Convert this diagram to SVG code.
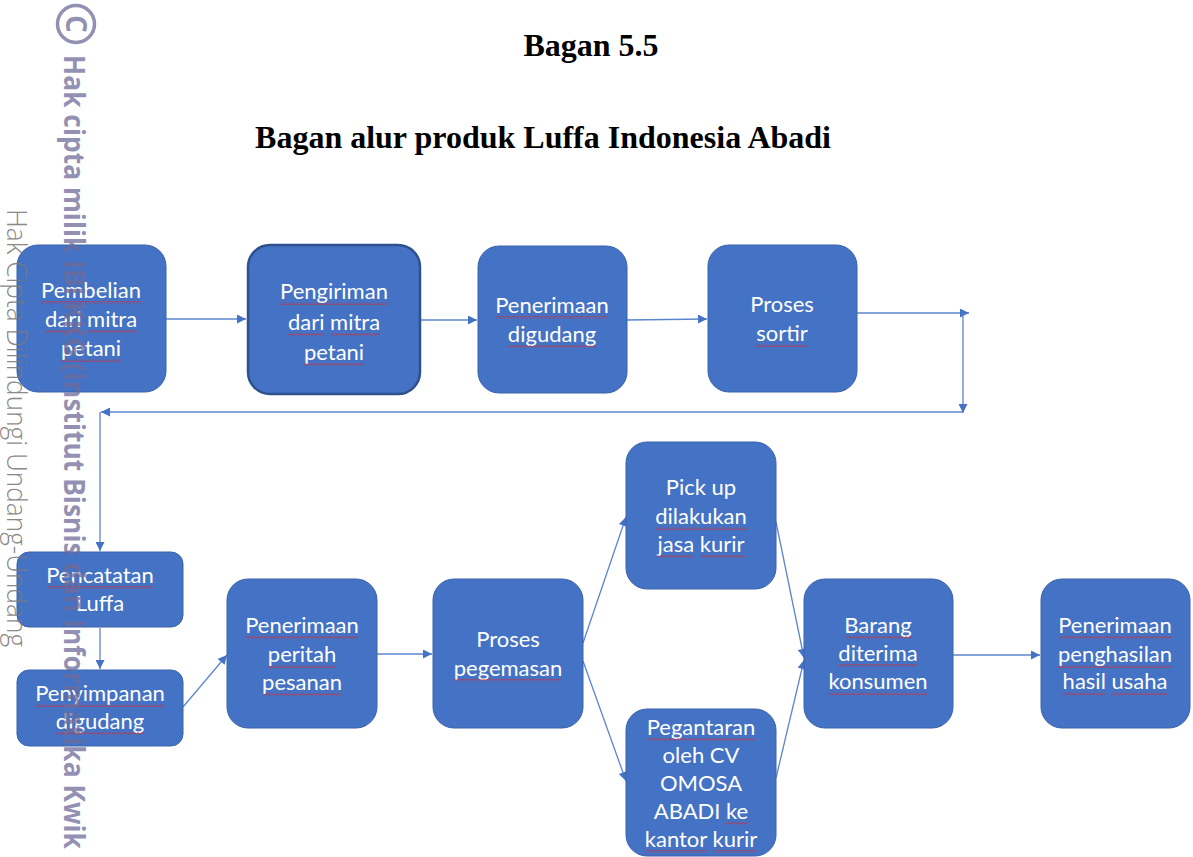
<svg xmlns="http://www.w3.org/2000/svg" width="1193" height="857" viewBox="0 0 1193 857">
<style>
.title{font-family:"Liberation Serif","Times New Roman",serif;font-weight:bold;font-size:32px;fill:#000;text-anchor:middle}
.box{fill:#4472C4;stroke:#3A62AA;stroke-width:1}
.box2{fill:#4472C4;stroke:#2F528F;stroke-width:2.5}
.lbl{font-family:Lato,"Noto Sans",sans-serif;font-size:22px;fill:#fff;text-anchor:middle}
.sq{fill:url(#wavy)}
.con{fill:none;stroke:#5B86CF;stroke-width:1.3}
.wm{font-family:"Open Sans","Noto Sans",sans-serif;font-weight:bold;font-size:28px;fill:#6E6C9A;fill-opacity:0.75}
.wm2{font-family:"Open Sans","Noto Sans",sans-serif;font-weight:300;font-size:27px;fill:#7A7A7A;fill-opacity:0.9}
</style>
<defs>
<marker id="ah" viewBox="0 0 10 10" refX="10" refY="5" markerWidth="10" markerHeight="9" markerUnits="userSpaceOnUse" orient="auto">
<path d="M0,0 L10,5 L0,10 z" fill="#4472C4"/>
</marker>
<pattern id="wavy" x="0" y="0" width="4" height="3" patternUnits="userSpaceOnUse">
<path d="M0,2.5 L2,0.5 L4,2.5" fill="none" stroke="#E02828" stroke-width="0.9"/>
</pattern>
</defs>
<rect width="1193" height="857" fill="#fff"/>
<text class="title" x="591" y="56">Bagan 5.5</text>
<text class="title" x="543" y="148">Bagan alur produk Luffa Indonesia Abadi</text>

<g id="connectors">
<path class="con" d="M166,319 L246,319" marker-end="url(#ah)"/>
<path class="con" d="M420,320 L477,320" marker-end="url(#ah)"/>
<path class="con" d="M627,320 L707,319" marker-end="url(#ah)"/>
<path class="con" d="M857,313 L969,313" marker-end="url(#ah)"/>
<path class="con" d="M963,313 L963,413" marker-end="url(#ah)"/>
<path class="con" d="M963,412 L101,412" marker-end="url(#ah)"/>
<path class="con" d="M100,412 L100,551" marker-end="url(#ah)"/>
<path class="con" d="M100,628 L100,669" marker-end="url(#ah)"/>
<path class="con" d="M183,707 L227,655" marker-end="url(#ah)"/>
<path class="con" d="M377,654 L432,654" marker-end="url(#ah)"/>
<path class="con" d="M583,643 L626,517" marker-end="url(#ah)"/>
<path class="con" d="M583,661 L626,781" marker-end="url(#ah)"/>
<path class="con" d="M776,522 L804,658" marker-end="url(#ah)"/>
<path class="con" d="M776,778 L804,660" marker-end="url(#ah)"/>
<path class="con" d="M953,655 L1040,655" marker-end="url(#ah)"/>
</g>

<g id="n-pembelian">
<rect class="box" x="17" y="245" width="149" height="147" rx="21"/>
<text class="lbl"><tspan x="91" y="298">Pembelian</tspan><tspan x="91" y="327">dari mitra</tspan><tspan x="91" y="356">petani</tspan></text>
<rect class="sq" x="41" y="301" width="100" height="3"/>
<rect class="sq" x="45" y="330" width="36" height="3"/>
<rect class="sq" x="88" y="330" width="49" height="3"/>
<rect class="sq" x="61" y="359" width="60" height="3"/>
</g>
<g id="n-pengiriman">
<rect class="box2" x="248" y="245" width="172" height="149" rx="22"/>
<text class="lbl"><tspan x="334" y="299">Pengiriman</tspan><tspan x="334" y="330">dari mitra</tspan><tspan x="334" y="360">petani</tspan></text>
<rect class="sq" x="280" y="302" width="108" height="3"/>
<rect class="sq" x="288" y="333" width="36" height="3"/>
<rect class="sq" x="331" y="333" width="49" height="3"/>
<rect class="sq" x="304" y="363" width="60" height="3"/>
</g>
<g id="n-penerimaan-gudang">
<rect class="box" x="478" y="246" width="149" height="147" rx="21"/>
<text class="lbl"><tspan x="552" y="313">Penerimaan</tspan><tspan x="552" y="342">digudang</tspan></text>
<rect class="sq" x="496" y="316" width="112" height="3"/>
<rect class="sq" x="508" y="345" width="88" height="3"/>
</g>
<g id="n-sortir">
<rect class="box" x="708" y="245" width="149" height="147" rx="21"/>
<text class="lbl"><tspan x="782" y="312">Proses</tspan><tspan x="782" y="341">sortir</tspan></text>
<rect class="sq" x="756" y="344" width="52" height="3"/>
</g>
<g id="n-pencatatan">
<rect class="box" x="17" y="552" width="166" height="75" rx="12"/>
<text class="lbl"><tspan x="100" y="583">Pencatatan</tspan><tspan x="100" y="611">Luffa</tspan></text>
<rect class="sq" x="47" y="586" width="106" height="3"/>
</g>
<g id="n-penyimpanan">
<rect class="box" x="17" y="670" width="166" height="76" rx="12"/>
<text class="lbl"><tspan x="100" y="701">Penyimpanan</tspan><tspan x="100" y="729">digudang</tspan></text>
<rect class="sq" x="36" y="704" width="129" height="3"/>
<rect class="sq" x="56" y="732" width="88" height="3"/>
</g>
<g id="n-pesanan">
<rect class="box" x="227" y="579" width="150" height="149" rx="21"/>
<text class="lbl"><tspan x="302" y="633">Penerimaan</tspan><tspan x="302" y="662">peritah</tspan><tspan x="302" y="690">pesanan</tspan></text>
<rect class="sq" x="246" y="636" width="112" height="3"/>
<rect class="sq" x="268" y="665" width="68" height="3"/>
<rect class="sq" x="263" y="693" width="79" height="3"/>
</g>
<g id="n-pegemasan">
<rect class="box" x="433" y="579" width="150" height="149" rx="21"/>
<text class="lbl"><tspan x="508" y="647">Proses</tspan><tspan x="508" y="676">pegemasan</tspan></text>
<rect class="sq" x="454" y="679" width="108" height="3"/>
</g>
<g id="n-pickup">
<rect class="box" x="626" y="442" width="150" height="147" rx="21"/>
<text class="lbl"><tspan x="701" y="495">Pick up</tspan><tspan x="701" y="524">dilakukan</tspan><tspan x="701" y="552">jasa kurir</tspan></text>
<rect class="sq" x="655" y="527" width="92" height="3"/>
<rect class="sq" x="657" y="555" width="37" height="3"/>
<rect class="sq" x="701" y="555" width="44" height="3"/>
</g>
<g id="n-pegantaran">
<rect class="box" x="626" y="709" width="150" height="147" rx="21"/>
<text class="lbl"><tspan x="701" y="735">Pegantaran</tspan><tspan x="701" y="763">oleh CV</tspan><tspan x="701" y="791">OMOSA</tspan><tspan x="701" y="819">ABADI ke</tspan><tspan x="701" y="847">kantor kurir</tspan></text>
<rect class="sq" x="647" y="738" width="108" height="3"/>
<rect class="sq" x="726" y="822" width="22" height="3"/>
<rect class="sq" x="645" y="850" width="63" height="3"/>
<rect class="sq" x="713" y="850" width="44" height="3"/>
</g>
<g id="n-barang">
<rect class="box" x="804" y="579" width="149" height="149" rx="21"/>
<text class="lbl"><tspan x="878" y="633">Barang</tspan><tspan x="878" y="661">diterima</tspan><tspan x="878" y="689">konsumen</tspan></text>
<rect class="sq" x="845" y="636" width="67" height="3"/>
<rect class="sq" x="838" y="664" width="80" height="3"/>
<rect class="sq" x="829" y="692" width="98" height="3"/>
</g>
<g id="n-penghasilan">
<rect class="box" x="1041" y="579" width="149" height="149" rx="21"/>
<text class="lbl"><tspan x="1115" y="633">Penerimaan</tspan><tspan x="1115" y="662">penghasilan</tspan><tspan x="1115" y="689">hasil usaha</tspan></text>
<rect class="sq" x="1059" y="636" width="112" height="3"/>
<rect class="sq" x="1058" y="665" width="114" height="3"/>
<rect class="sq" x="1063" y="692" width="42" height="3"/>
<rect class="sq" x="1112" y="692" width="55" height="3"/>
</g>

<g id="watermark">
<circle cx="76" cy="24" r="18.5" fill="none" stroke="#6E6C9A" stroke-opacity="0.75" stroke-width="3.5"/>
<text class="wm" transform="translate(66,24) rotate(90)" text-anchor="middle" font-size="26">C</text>
<text class="wm" transform="translate(64,55) rotate(90)" textLength="794" lengthAdjust="spacingAndGlyphs">Hak cipta milik IBI KKG (Institut Bisnis dan Informatika Kwik</text>
<text class="wm2" transform="translate(7,209) rotate(90)" textLength="438" lengthAdjust="spacingAndGlyphs">Hak Cipta Dilindungi Undang-Undang</text>
</g>
</svg>
